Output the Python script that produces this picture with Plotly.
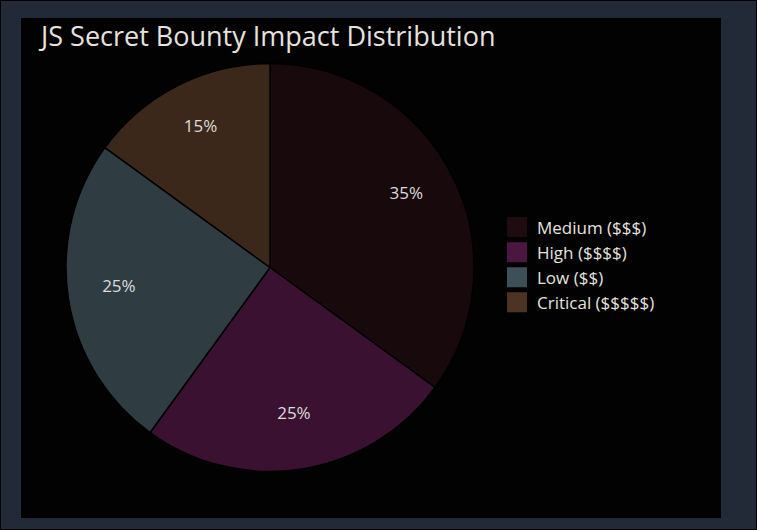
import plotly.graph_objects as go

labels = ["Medium ($$$)", "High ($$$$)", "Low ($$)", "Critical ($$$$$)"]
values = [35, 25, 25, 15]
colors = ["#1e0c10", "#4b1640", "#3d4f57", "#4d3422"]

W, H = 757, 530
FONT = "Open Sans"
DOMAIN = dict(x=[66 / W, 474 / W], y=[(H - 472) / H, (H - 63) / H])
TEXT_DOMAIN = dict(x=[66 / W, 474 / W], y=[(H - 466) / H, (H - 57) / H])

fig = go.Figure()
# filled pie
fig.add_trace(go.Pie(
    labels=labels,
    values=values,
    sort=False,
    direction="clockwise",
    rotation=0,
    showlegend=False,
    opacity=0.77,
    marker=dict(colors=colors, line=dict(color="#000000", width=1.5)),
    textinfo="none",
    domain=DOMAIN,
))
# percentage labels, placed in the outer ring of the same pie
fig.add_trace(go.Pie(
    labels=labels,
    values=values,
    sort=False,
    direction="clockwise",
    rotation=0,
    hole=0.5,
    showlegend=False,
    hoverinfo="skip",
    marker=dict(colors=["rgba(0,0,0,0)"] * len(labels), line=dict(width=0)),
    textinfo="percent",
    textposition="inside",
    insidetextorientation="horizontal",
    insidetextfont=dict(color="#dcdcdc", size=17, family=FONT),
    domain=TEXT_DOMAIN,
))

# legend entries (same categories and colours as the pie)
for lab, col in zip(labels, colors):
    fig.add_trace(go.Scatter(
        x=[None], y=[None], mode="markers", name=lab,
        marker=dict(symbol="square", size=16, color=col,
                    line=dict(color=col, width=4)),
    ))

fig.update_layout(
    width=W, height=H,
    margin=dict(l=0, r=0, t=0, b=0),
    paper_bgcolor="#222a37",
    plot_bgcolor="rgba(0,0,0,0)",
    xaxis=dict(visible=False),
    yaxis=dict(visible=False),
    font=dict(family=FONT, color="#dcdcdc"),
    title=dict(text="JS Secret Bounty Impact Distribution",
               x=41 / W, xanchor="left", y=1 - 37 / H, yanchor="middle",
               font=dict(size=27, color="#e6e3df", family=FONT)),
    legend=dict(x=497 / W, xanchor="left", y=1 - 265 / H, yanchor="middle",
                font=dict(size=17, color="#e6e3df", family=FONT),
                tracegroupgap=0,
                bgcolor="rgba(0,0,0,0)"),
    shapes=[
        dict(type="rect", xref="paper", yref="paper", layer="below",
             x0=21 / W, x1=721 / W, y0=(H - 518) / H, y1=(H - 18) / H,
             fillcolor="#020202", line=dict(width=0)),
        dict(type="rect", xref="paper", yref="paper", layer="above",
             x0=0, x1=1, y0=0, y1=1,
             fillcolor="rgba(0,0,0,0)", line=dict(color="#000000", width=2)),
    ],
)

fig.write_html("out.html",
               config={"displayModeBar": False},
               post_script="document.body.style.margin='0';"
                           "document.body.style.background='#222a37';")
